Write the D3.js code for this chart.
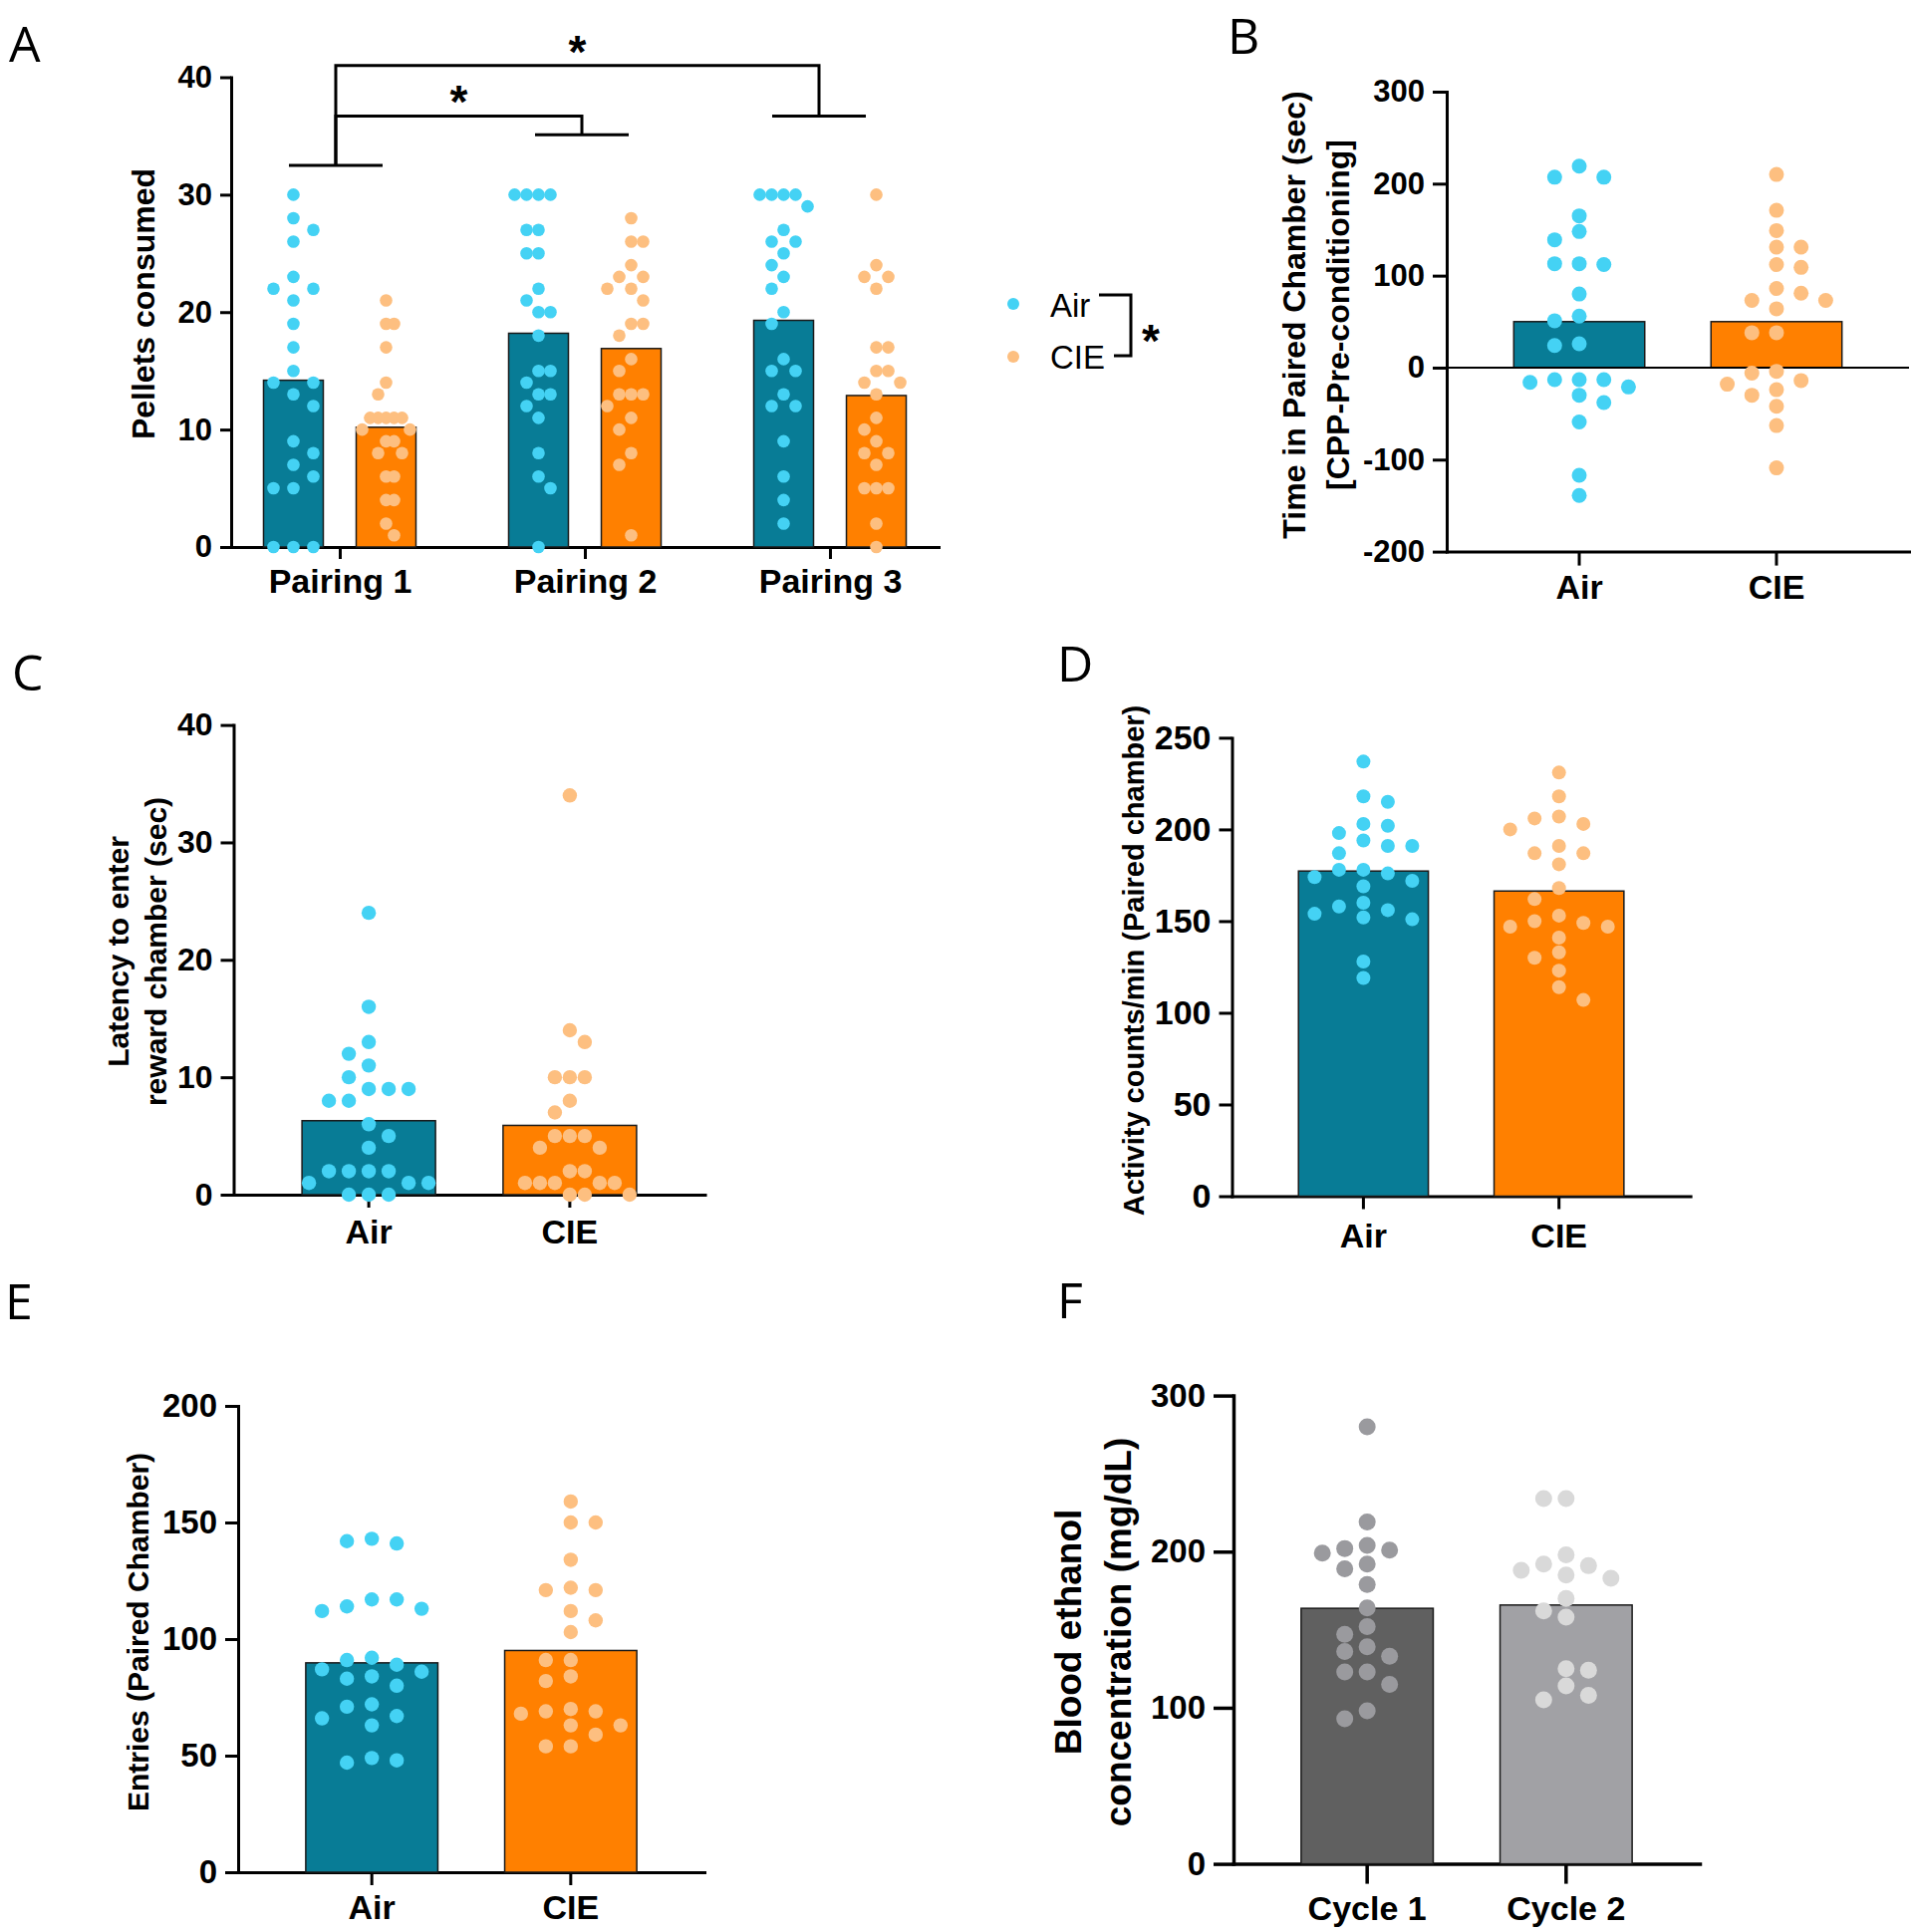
<!DOCTYPE html>
<html>
<head>
<meta charset="utf-8">
<script src="https://cdn.jsdelivr.net/npm/d3@7"></script>
<style>
  body { margin: 0; background: #fff; }
  svg { display: block; background: #fff; }
</style>
</head>
<body>
<div id="chart"></div>
<script>
// ---------------- data ----------------
const pairings = ["Pairing 1", "Pairing 2", "Pairing 3"];
const groups = ["Air", "CIE"];
const cycles = ["Cycle 1", "Cycle 2"];

// A: pellets consumed per pairing
const pelletsAir = [
  [30, 28, 27, 26, 23, 22, 22, 21, 19, 17, 15, 14, 14, 13, 12, 9, 8, 7, 6, 5, 5, 0, 0, 0],
  [30, 30, 30, 30, 27, 27, 25, 25, 22, 21, 20, 20, 18, 15, 15, 14, 13, 13, 12, 11, 8, 6, 5, 0],
  [30, 30, 30, 30, 29, 27, 26, 26, 25, 24, 23, 22, 20, 19, 16, 15, 15, 13, 12, 12, 9, 6, 4, 2]
];
const pelletsCIE = [
  [21, 19, 19, 17, 14, 13, 11, 11, 11, 11, 11, 10, 10, 9, 9, 8, 8, 6, 6, 4, 4, 2, 1],
  [28, 26, 26, 24, 23, 23, 22, 22, 21, 19, 19, 18, 16, 15, 13, 13, 13, 12, 11, 10, 8, 7, 1],
  [30, 24, 23, 23, 22, 17, 17, 15, 15, 14, 14, 13, 11, 10, 9, 8, 8, 7, 5, 5, 5, 2, 0]
];
const pelletsAirMean = [14.2, 18.2, 19.3];
const pelletsCIEMean = [10.2, 16.9, 12.9];

// B: time in paired chamber (CPP - pre-conditioning)
const cppAir = [219, 207, 207, 165, 148, 139, 113, 113, 112, 80, 51, 56, 24, 26,
  -13, -16, -13, -13, -21, -30, -38, -59, -117, -139];
const cppCIE = [210, 171, 149, 131, 131, 109, 112, 86, 81, 73, 73, 64, 38, 38,
  -4, -6, -14, -18, -24, -30, -42, -63, -109];
const cppMean = [50, 50];

// C: latency to enter reward chamber
const latencyAir = [24, 16, 13, 12, 11, 10, 9, 9, 9, 8, 8, 6, 5, 4, 2, 2, 2, 2, 1, 1, 1, 0, 0, 0];
const latencyCIE = [34, 14, 13, 10, 10, 10, 8, 7, 5, 5, 5, 4, 4, 2, 2, 1, 1, 1, 1, 1, 0, 0, 0];
const latencyMean = [6.3, 5.9];

// D: activity counts/min
const activityAir = [237, 218, 215, 202, 203, 194, 198, 191, 191, 187, 178, 178, 176, 174,
  172, 169, 160, 158, 156, 154, 152, 151, 128, 119];
const activityCIE = [231, 218, 206, 207, 203, 200, 187, 187, 191, 181, 168, 162, 153, 149,
  147, 147, 150, 141, 133, 130, 123, 114, 107];
const activityMean = [177.3, 166.4];

// E: entries into paired chamber
const entriesAir = [143, 142, 141, 117, 113, 112, 114, 117, 89, 91, 92, 87, 86, 83, 84, 80,
  71, 72, 67, 66, 63, 47, 49, 48];
const entriesCIE = [159, 150, 150, 134, 121, 122, 121, 112, 108, 103, 91, 91, 82, 84, 69, 69,
  70, 68, 63, 63, 59, 54, 54];
const entriesMean = [89.8, 95.1];

// F: blood ethanol concentration
const becCycle1 = [280, 219, 202, 204, 201, 199, 192, 189, 179, 164, 152, 147, 139, 136, 133,
  123, 123, 115, 98, 93];
const becCycle2 = [234, 234, 198, 191, 192, 188, 183, 185, 170, 162, 158, 125, 124, 114, 105, 108];
const becMean = [163.7, 165.8];

// ---------------- setup ----------------
const FONT = '"Liberation Sans", Arial, Helvetica, sans-serif';
const airBar = "#087c96", cieBar = "#ff8000";
const airDot = "#44d2f4", cieDot = "#fdbf80";

const svg = d3.select("#chart").append("svg")
  .attr("width", 1920).attr("height", 1939);

// prism-like scatter: dots sit on a horizontal grid (step s/2); two dots clash
// when they are closer than s sideways and closer than h vertically.
// if the cloud gets wider than +-lim it is squeezed back in.
function swarm(vals, cx, y, s, h, lim) {
  const g = s / 2;
  const pts = vals.map(v => ({ v, y: y(v) })).sort((a, b) => a.y - b.y);
  const placed = [];
  pts.forEach((p, i) => {
    const near = placed.filter(q => Math.abs(q.y - p.y) < h - 1e-6);
    for (let k = 0; k < 40; k++) {
      const side = (i % 2 === 0) ? 1 : -1;
      const tries = k === 0 ? [0] : [side * k * g, -side * k * g];
      const ok = tries.find(dx => near.every(q => Math.abs(q.dx - dx) >= s - 1e-6));
      if (ok !== undefined) { p.dx = ok; break; }
    }
    placed.push(p);
  });
  const wide = d3.max(placed, p => Math.abs(p.dx));
  const k = wide > lim ? lim / wide : 1;
  return placed.map(p => ({ v: p.v, x: cx + p.dx * k, y: p.y }));
}

function styleAxis(ax, fs, sw) {
  ax.attr("font-family", FONT).attr("font-size", fs).attr("font-weight", "bold");
  ax.select(".domain").attr("stroke", "#000").attr("stroke-width", sw)
    .attr("stroke-linecap", "square");
  ax.selectAll(".tick line").attr("stroke", "#000").attr("stroke-width", sw);
  ax.selectAll(".tick text").attr("fill", "#000");
}

function drawYAxis(y, x0, ticks, fs, tick, sw) {
  const ax = svg.append("g").attr("transform", `translate(${x0},0)`)
    .call(d3.axisLeft(y).tickValues(ticks).tickSize(tick).tickPadding(8)
      .tickSizeOuter(0).tickFormat(d => String(d)));
  styleAxis(ax, fs, sw);
}

function drawXAxis(x, y0, fs, tick, pad, sw) {
  const ax = svg.append("g").attr("transform", `translate(0,${y0})`)
    .call(d3.axisBottom(x).tickSize(tick).tickPadding(pad).tickSizeOuter(0));
  styleAxis(ax, fs, sw);
}

function drawTitle(lines, xs, yc, fs) {
  lines.forEach((t, i) => {
    svg.append("text")
      .attr("transform", `translate(${xs[i]},${yc}) rotate(-90)`)
      .attr("text-anchor", "middle").attr("dy", "0.36em")
      .attr("font-family", FONT).attr("font-weight", "bold")
      .attr("font-size", fs).attr("fill", "#000")
      .text(t);
  });
}

function drawLetter(t, x, y) {
  svg.append("text").attr("x", x).attr("y", y)
    .attr("font-family", '"Open Sans", sans-serif').attr("font-size", 50)
    .attr("fill", "#000").text(t);
}

function drawDots(vals, cx, y, r, s, h, lim, color) {
  svg.append("g").selectAll("circle")
    .data(swarm(vals, cx, y, s, h, lim))
    .join("circle")
    .attr("cx", d => d.x).attr("cy", d => d.y).attr("r", r)
    .attr("fill", color);
}

// two-bar panels (B-F)
function barPanel(cfg) {
  const x = d3.scaleBand().domain(cfg.cats).range(cfg.xr)
    .paddingInner(0.336).paddingOuter(0.34);
  const y = d3.scaleLinear().domain(cfg.dom).range(cfg.yr);

  drawYAxis(y, cfg.xr[0], cfg.ticks, cfg.tickFs, cfg.tick, cfg.sw);
  drawXAxis(x, y(cfg.dom[0]), 34, cfg.tick, cfg.xPad, cfg.sw);

  svg.append("g").selectAll("rect")
    .data(cfg.cats)
    .join("rect")
    .attr("x", d => x(d)).attr("width", x.bandwidth())
    .attr("y", (d, i) => Math.min(y(cfg.means[i]), y(0)))
    .attr("height", (d, i) => Math.abs(y(0) - y(cfg.means[i])))
    .attr("fill", (d, i) => cfg.barColors[i])
    .attr("stroke", "#1a1a1a").attr("stroke-width", 1.5);

  if (cfg.dom[0] < 0) {
    svg.append("line")
      .attr("x1", cfg.xr[0]).attr("x2", cfg.xr[1])
      .attr("y1", y(0)).attr("y2", y(0))
      .attr("stroke", "#000").attr("stroke-width", 2);
  }

  cfg.cats.forEach((c, i) => {
    drawDots(cfg.values[i], x(c) + x.bandwidth() / 2, y, cfg.r, cfg.s, 2 * cfg.r, cfg.lim,
      cfg.dotColors[i]);
  });

  drawTitle(cfg.title, cfg.titleX, cfg.titleY, cfg.titleFs);
  drawLetter(cfg.letter, cfg.letterPos[0], cfg.letterPos[1]);
}

// ---------------- Panel A ----------------
{
  const xG = d3.scalePoint().domain(pairings).range([232, 942]).padding(0.443);
  const xIn = d3.scaleBand().domain(groups).range([-76.5, 76.5]).paddingInner(0.355);
  const y = d3.scaleLinear().domain([0, 40]).range([549, 77.5]);

  drawYAxis(y, 232, [0, 10, 20, 30, 40], 31, 11, 3);
  drawXAxis(xG, y(0), 34, 12, 10, 3);

  const means = [pelletsAirMean, pelletsCIEMean];
  const vals = [pelletsAir, pelletsCIE];
  const barCol = [airBar, cieBar], dotCol = [airDot, cieDot];

  pairings.forEach((p, pi) => {
    groups.forEach((g, gi) => {
      const x0 = xG(p) + xIn(g);
      svg.append("rect")
        .attr("x", x0).attr("width", xIn.bandwidth())
        .attr("y", y(means[gi][pi])).attr("height", y(0) - y(means[gi][pi]))
        .attr("fill", barCol[gi]).attr("stroke", "#1a1a1a").attr("stroke-width", 1.5);
    });
  });
  pairings.forEach((p, pi) => {
    groups.forEach((g, gi) => {
      drawDots(vals[gi][pi], xG(p) + xIn(g) + xIn.bandwidth() / 2, y, 6.3, 20, 12.5, 24,
        dotCol[gi]);
    });
  });

  // significance brackets (main effect of pairing)
  const capLevel = [32.5, 35.1, 36.7];
  const capNudge = [-4, -3, -11];   // brackets sit a little left of the tick in the figure
  const comparisons = [[0, 1, 36.7], [0, 2, 41.0]];
  const bx = i => xG(pairings[i]) + capNudge[i];
  const br = svg.append("g").attr("stroke", "#000").attr("stroke-width", 3).attr("fill", "none");
  pairings.forEach((p, i) => {
    br.append("line").attr("x1", bx(i) - 47).attr("x2", bx(i) + 47)
      .attr("y1", y(capLevel[i])).attr("y2", y(capLevel[i]));
  });
  comparisons.forEach(([a, b, lev]) => {
    br.append("path")
      .attr("d", `M${bx(a)},${y(capLevel[a])}V${y(lev)}H${bx(b)}V${y(capLevel[b])}`);
    svg.append("text").attr("x", (bx(a) + bx(b)) / 2).attr("y", y(lev) + 2)
      .attr("text-anchor", "middle").attr("font-family", FONT)
      .attr("font-weight", "bold").attr("font-size", 46).text("*");
  });

  // legend with group effect
  const leg = svg.append("g");
  groups.forEach((g, i) => {
    leg.append("circle").attr("cx", 1017).attr("cy", 305 + i * 53).attr("r", 6)
      .attr("fill", dotCol[i]);
    leg.append("text").attr("x", 1054).attr("y", 318 + i * 52)
      .attr("font-family", FONT).attr("font-size", 33).text(g);
  });
  leg.append("path").attr("d", "M1103,296H1135V357H1118")
    .attr("stroke", "#000").attr("stroke-width", 3).attr("fill", "none");
  leg.append("text").attr("x", 1155).attr("y", 358).attr("text-anchor", "middle")
    .attr("font-family", FONT).attr("font-weight", "bold").attr("font-size", 46).text("*");

  drawTitle(["Pellets consumed"], [143], 305, 32);
  drawLetter("A", 9, 62);
}

// ---------------- Panels B-F ----------------
barPanel({
  letter: "B", letterPos: [1232, 54],
  cats: groups, values: [cppAir, cppCIE], means: cppMean,
  xr: [1452, 1916], yr: [553.6, 92], dom: [-200, 300],
  ticks: [-200, -100, 0, 100, 200, 300], tickFs: 31, tick: 14, xPad: 9, sw: 3,
  r: 7.5, s: 24.7, lim: 52, barColors: [airBar, cieBar], dotColors: [airDot, cieDot],
  title: ["Time in Paired Chamber (sec)", "[CPP-Pre-conditioning]"],
  titleX: [1298, 1342], titleY: 316, titleFs: 32
});

barPanel({
  letter: "C", letterPos: [12, 693],
  cats: groups, values: [latencyAir, latencyCIE], means: latencyMean,
  xr: [234.5, 707.5], yr: [1199, 727.6], dom: [0, 40],
  ticks: [0, 10, 20, 30, 40], tickFs: 32, tick: 13, xPad: 12, sw: 3,
  r: 7.2, s: 20.2, lim: 60, barColors: [airBar, cieBar], dotColors: [airDot, cieDot],
  title: ["Latency to enter", "reward chamber (sec)"],
  titleX: [118, 156], titleY: 955, titleFs: 30
});

barPanel({
  letter: "D", letterPos: [1061, 684],
  cats: groups, values: [activityAir, activityCIE], means: activityMean,
  xr: [1236.5, 1696.6], yr: [1200.5, 740.4], dom: [0, 250],
  ticks: [0, 50, 100, 150, 200, 250], tickFs: 34, tick: 13, xPad: 14, sw: 3,
  r: 7, s: 24.5, lim: 50, barColors: [airBar, cieBar], dotColors: [airDot, cieDot],
  title: ["Activity counts/min (Paired chamber)"],
  titleX: [1138], titleY: 964, titleFs: 29
});

barPanel({
  letter: "E", letterPos: [5, 1324],
  cats: groups, values: [entriesAir, entriesCIE], means: entriesMean,
  xr: [239, 707], yr: [1879, 1411], dom: [0, 200],
  ticks: [0, 50, 100, 150, 200], tickFs: 33, tick: 13, xPad: 10, sw: 3,
  r: 7.2, s: 25, lim: 52, barColors: [airBar, cieBar], dotColors: [airDot, cieDot],
  title: ["Entries (Paired Chamber)"],
  titleX: [138], titleY: 1638, titleFs: 30
});

barPanel({
  letter: "F", letterPos: [1061, 1323],
  cats: cycles, values: [becCycle1, becCycle2], means: becMean,
  xr: [1238, 1706], yr: [1870.6, 1400.6], dom: [0, 300],
  ticks: [0, 100, 200, 300], tickFs: 33, tick: 20, xPad: 12, sw: 3.5,
  r: 8.5, s: 28, lim: 45, barColors: ["#606060", "#a1a1a5"], dotColors: ["#9a9a9e", "#d9d9d9"],
  title: ["Blood ethanol", "concentration (mg/dL)"],
  titleX: [1072, 1122], titleY: 1638, titleFs: 37
});
</script>
</body>
</html>
